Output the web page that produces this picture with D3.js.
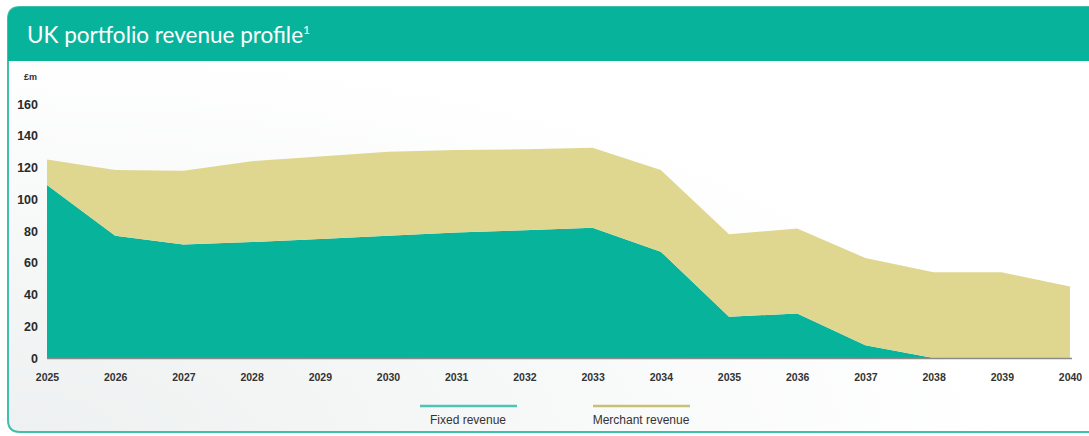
<!DOCTYPE html>
<html><head><meta charset="utf-8">
<script src="https://cdn.jsdelivr.net/npm/d3@7"></script>
<style>html,body{margin:0;padding:0;background:#fff;}svg{display:block;}</style>
</head><body>
<svg id="c" width="1089" height="436"></svg>
<script>
const years = [2025,2026,2027,2028,2029,2030,2031,2032,2033,2034,2035,2036,2037,2038,2039,2040];
const fixedRevenue = [109,77,71.5,73,75,77,79,80.5,82,67,26,28,8,0,0,0];
const merchantRevenue = [16,41.5,46.5,51,52,53,52,51,50.5,51.5,52,53.5,55,54,54,45];
const yTicks = [0,20,40,60,80,100,120,140,160];
const seriesNames = ["Fixed revenue","Merchant revenue"];
const colors = ["#08b39c","#dfd790"];
const legendLine = ["#4fc4b4","#c9bf78"];

const svg = d3.select("#c");
const defs = svg.append("defs");
const g1 = defs.append("radialGradient").attr("id","bg").attr("cx","0").attr("cy","1").attr("r","0.9")
  .attr("gradientTransform","scale(1,1)");
g1.append("stop").attr("offset","0").attr("stop-color","#eef1f1");
g1.append("stop").attr("offset","0.6").attr("stop-color","#f8f9f9");
g1.append("stop").attr("offset","1").attr("stop-color","#ffffff");

// card
svg.append("path")
  .attr("d","M1100,7 L20,7 Q8,7 8,19 L8,420 Q8,432 20,432 L1100,432 Z")
  .attr("fill","url(#bg)").attr("stroke","#3dbfa9").attr("stroke-width",2);
svg.append("path")
  .attr("d","M1100,7 L20,7 Q8,7 8,19 L8,61 L1100,61 Z")
  .attr("fill","#08b39c");
const title = svg.append("text").attr("x",27).attr("y",43)
  .attr("font-family","Lato, 'Open Sans', sans-serif").attr("font-size",22.5).attr("fill","#fff");
title.append("tspan").text("UK portfolio revenue profile");
title.append("tspan").attr("font-size",12).attr("dy",-9).text("1");

const x = d3.scaleLinear().domain([2025,2040]).range([47,1070]);
const y = d3.scaleLinear().domain([0,160]).range([358,104]);

const data = years.map((yr,i)=>({year:yr, fixed:fixedRevenue[i], merchant:merchantRevenue[i]}));
const stack = d3.stack().keys(["fixed","merchant"]);
const layers = stack(data);
const area = d3.area().x(d=>x(d.data.year)).y0(d=>y(d[0])).y1(d=>y(d[1]));
svg.append("g").selectAll("path").data(layers).join("path")
  .attr("d",area).attr("fill",(d,i)=>colors[i]);

// axis line
svg.append("line").attr("x1",x(2025)).attr("x2",x(2040)+2).attr("y1",y(0)+0.5).attr("y2",y(0)+0.5)
  .attr("stroke","#8a8a8a").attr("stroke-width",1.5);

// y ticks
const yAxis = d3.axisLeft(y).tickValues(yTicks).tickSize(0).tickPadding(0);
const ya = svg.append("g").attr("transform","translate(38,0)").call(yAxis);
ya.select(".domain").remove();
ya.selectAll("text").attr("font-family","'Liberation Sans', Arial, sans-serif").attr("font-size",12.5)
  .attr("font-weight","600").attr("fill","#2a2a2a");
svg.append("text").attr("x",24).attr("y",80).text("£m")
  .attr("font-family","'Liberation Sans', Arial, sans-serif").attr("font-size",9).attr("font-weight","bold").attr("fill","#333");

// x ticks
const xAxis = d3.axisBottom(x).tickValues(years).tickFormat(d3.format("d")).tickSize(0).tickPadding(0);
const xa = svg.append("g").attr("transform","translate(0,377)").call(xAxis);
xa.select(".domain").remove();
xa.selectAll("text").attr("font-family","'Liberation Sans', Arial, sans-serif").attr("font-size",10.5)
  .attr("font-weight","bold").attr("fill","#333").attr("dy","0.35em");

// legend
const legX = [468,641];
const leg = svg.append("g").selectAll("g").data(seriesNames).join("g")
  .attr("transform",(d,i)=>`translate(${legX[i]},0)`);
leg.append("line").attr("x1",-48).attr("x2",49).attr("y1",406).attr("y2",406)
  .attr("stroke",(d,i)=>legendLine[i]).attr("stroke-width",2.5);
leg.append("text").attr("y",424).attr("text-anchor","middle").text(d=>d)
  .attr("font-family","'Liberation Sans', Arial, sans-serif").attr("font-size",12).attr("fill","#333");
</script>
</body></html>
